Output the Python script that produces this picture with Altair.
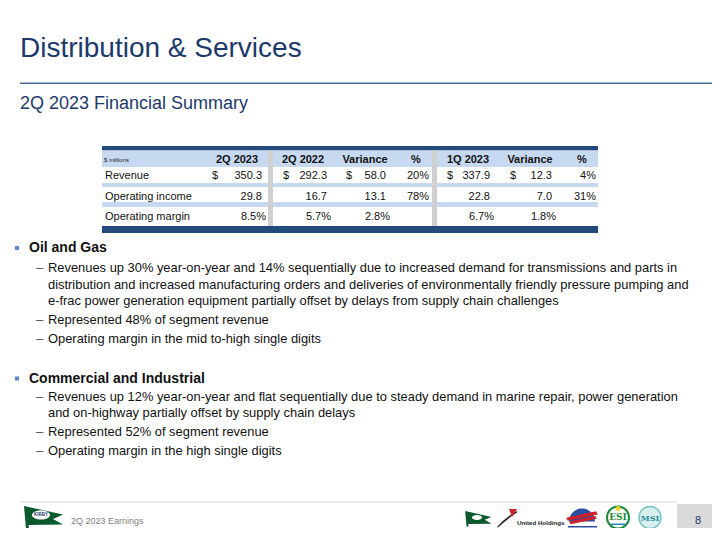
import altair as alt
import pandas as pd

# ---------------- data ----------------
title = "Distribution & Services"
subtitle = "2Q 2023 Financial Summary"
units_label = "$ millions"
col_headers = ["2Q 2023", "2Q 2022", "Variance", "%", "1Q 2023", "Variance", "%"]
row_labels = ["Revenue", "Operating income", "Operating margin"]
revenue = ["350.3", "292.3", "58.0", "20%", "337.9", "12.3", "4%"]
operating_income = ["29.8", "16.7", "13.1", "78%", "22.8", "7.0", "31%"]
operating_margin = ["8.5%", "5.7%", "2.8%", "", "6.7%", "1.8%", ""]
dollar_cols = [0, 1, 2, 4, 5]

section1 = "Oil and Gas"
section1_items = [
    ["Revenues up 30% year-on-year and 14% sequentially due to increased demand for transmissions and parts in",
     "distribution and increased manufacturing orders and deliveries of environmentally friendly pressure pumping and",
     "e-frac power generation equipment partially offset by delays from supply chain challenges"],
    ["Represented 48% of segment revenue"],
    ["Operating margin in the mid to-high single digits"],
]
section2 = "Commercial and Industrial"
section2_items = [
    ["Revenues up 12% year-on-year and flat sequentially due to steady demand in marine repair, power generation",
     "and on-highway partially offset by supply chain delays"],
    ["Represented 52% of segment revenue"],
    ["Operating margin in the high single digits"],
]
footer_text = "2Q 2023 Earnings"
page_number = "8"

# ---------------- layout ----------------
FONT = "Liberation Sans"
NAVY_TXT = "#1b3a6b"
TBL_NAVY = "#234a7c"
LIGHT_BLUE = "#c6d9f1"
GRAY_BAR = "#d0d0d0"

# page has an 8px margin: chart pixel (0,0) sits at page (8,8)
W, H = 704, 520
XS = alt.Scale(domain=[8, 8 + W], range=[0, W], nice=False, zero=False)
YS = alt.Scale(domain=[8, 8 + H], range=[0, H], nice=False, zero=False)


def X():
    return alt.X("x:Q", scale=XS, axis=None)


def Y():
    return alt.Y("y:Q", scale=YS, axis=None)


def rect_layer(rows):
    df = pd.DataFrame(rows, columns=["x", "x2", "y", "y2", "c"])
    return alt.Chart(df).mark_rect().encode(
        x=X(), x2="x2:Q", y=Y(), y2="y2:Q", color=alt.Color("c:N", scale=None)
    )


def text_layer(rows, size, color, weight="normal", align="left", baseline="middle", font=FONT):
    df = pd.DataFrame(rows, columns=["x", "y", "t"])
    return alt.Chart(df).mark_text(
        align=align, baseline=baseline, fontSize=size, fontWeight=weight,
        color=color, font=font
    ).encode(x=X(), y=Y(), text="t:N")


def shape_layer(rows, shape, color, size, stroke=None, stroke_width=0, fill=None):
    df = pd.DataFrame(rows, columns=["x", "y"])
    kw = dict(shape=shape, size=size, filled=True, opacity=1, color=color,
              fill=fill if fill else color)
    if stroke:
        kw["stroke"] = stroke
        kw["strokeWidth"] = stroke_width
    else:
        kw["strokeWidth"] = 0
    return alt.Chart(df).mark_point(**kw).encode(x=X(), y=Y())


layers = []

# title block
layers.append(text_layer([(20, 57, title)], 28, NAVY_TXT, baseline="alphabetic"))
layers.append(rect_layer([(20, 720, 82.6, 84, "#4d6d9a")]))
layers.append(text_layer([(20, 109, subtitle)], 18, NAVY_TXT, baseline="alphabetic"))

# table backgrounds
TL, TR = 102, 598
layers.append(rect_layer([
    (TL, TR, 146, 150.5, TBL_NAVY),
    (TL, TR, 150.5, 167, LIGHT_BLUE),
    (TL, TR, 183, 187, LIGHT_BLUE),
    (TL, TR, 202, 207, LIGHT_BLUE),
    (TL, TR, 226, 233, TBL_NAVY),
    (268, 273, 150.5, 226, GRAY_BAR),
    (432, 437, 150.5, 226, GRAY_BAR),
]))

header_cx = [237, 303, 365, 416, 468, 530, 582]
num_right = [262, 327, 386, 429, 490, 552, 596]
dollar_x = [212, 283, 346, None, 447, 510, None]
row_y = [176, 196.5, 216.5]

layers.append(text_layer([(104, 159.5, units_label)], 6, "#222222"))
layers.append(text_layer([(cx, 159.5, h) for cx, h in zip(header_cx, col_headers)],
                         11, "#111111", weight="bold", align="center"))
layers.append(text_layer([(105, y, r) for y, r in zip(row_y, row_labels)], 11, "#111111"))

num_rows = []
for ry, vals in zip(row_y, [revenue, operating_income, operating_margin]):
    for i, v in enumerate(vals):
        if not v:
            continue
        xr = num_right[i]
        if ry == row_y[2] and v.endswith("%"):
            xr += 4
        num_rows.append((xr, ry, v))
layers.append(text_layer(num_rows, 11, "#111111", align="right"))
layers.append(text_layer([(dollar_x[i], row_y[0], "$") for i in dollar_cols], 11, "#111111"))

# bullets
LINE = 16.7
GAP = 18.8


def section_rows(head_y, items, first_gap):
    out = []
    y = head_y + first_gap
    for item in items:
        first = True
        for line in item:
            out.append((y, line, first))
            first = False
            y += LINE
        y += GAP - LINE
    return out


sec_heads = [(248, section1, section1_items, 20), (378.5, section2, section2_items, 18)]
head_rows, body_rows, dash_rows, square_rows = [], [], [], []
for hy, head, items, fg in sec_heads:
    head_rows.append((29, hy, head))
    square_rows.append((17, hy))
    for y, line, first in section_rows(hy, items, fg):
        body_rows.append((48, y, line))
        if first:
            dash_rows.append((36, y, "\u2013"))

layers.append(shape_layer(square_rows, "square", "#5b87c5", 16))
layers.append(text_layer(head_rows, 14, "#111111", weight="bold"))
layers.append(text_layer(dash_rows, 13, "#555555"))
layers.append(text_layer(body_rows, 12.9, "#111111"))

# footer
layers.append(rect_layer([
    (20, 677, 501, 503, "#ebebeb"),
    (677, 720, 504, 540, "#d9d9d9"),
]))
layers.append(text_layer([(71, 521, footer_text)], 9, "#808080"))
layers.append(text_layer([(698, 521, page_number)], 11, NAVY_TXT, align="center"))

FLAG = "M-0.95,-0.55 L1,-0.12 L0.5,0.1 L1,0.38 L-0.72,0.4 L-0.7,0.6 L-0.85,0.6 Z"
ELLIPSE = "M-1,0 A1,0.5 0 1,1 1,0 A1,0.5 0 1,1 -1,0 Z"
layers.append(shape_layer([(43, 517)], FLAG, "#0b5a2e", 1600))
layers.append(shape_layer([(41, 515)], ELLIPSE, "#ffffff", 324))
layers.append(text_layer([(41, 515, "KIRBY")], 4.5, "#1b3a6b", weight="bold", align="center"))
layers.append(shape_layer([(478, 518.5)], FLAG, "#0b5a2e", 729))
layers.append(shape_layer([(477, 517.5)], ELLIPSE, "#ffffff", 100))

SWOOSH = "M-1,0.9 Q-0.1,-0.1 1,-0.7 L1,-0.55 Q0,0.1 -0.9,0.95 Z"
WEDGE = "M0.2,-0.9 L1,-0.9 L0.5,-0.1 Z"
layers.append(shape_layer([(507, 518)], SWOOSH, "#222222", 400))
layers.append(shape_layer([(507, 518)], WEDGE, "#d0202a", 400))
layers.append(text_layer([(517, 523, "United Holdings")], 6.2, "#222222", weight="bold"))

# emblem (red/blue)
DOME = "M-1,0.2 A1,1 0 0,1 1,0.2 Z"
STRIPE = "M-1,-0.15 L0.9,-0.55 L1,-0.35 L-0.9,0.05 Z"
layers.append(shape_layer([(582, 519)], DOME, "#2b4fa0", 676))
layers.append(shape_layer([(582, 520)], STRIPE, "#d0202a", 1000))
layers.append(shape_layer([(583, 523.5)], STRIPE, "#d0202a", 760))
layers.append(rect_layer([(568, 597, 526, 527.5, "#2b4fa0")]))

layers.append(shape_layer([(618, 517.5)], "circle", "#1b8a3a", 484,
                          stroke="#1b8a3a", stroke_width=2, fill="#ffffff"))
layers.append(shape_layer([(618, 508.5)], "circle", "#f2d22e", 25))
layers.append(text_layer([(618, 517, "ESI")], 9, "#1b8a3a", weight="bold",
                         align="center", font="DejaVu Serif"))
layers.append(rect_layer([(611, 625, 523.5, 525, "#2b7fc0")]))
layers.append(shape_layer([(650, 517.5)], "circle", "#3aa0a0", 484,
                          stroke="#7cc4c4", stroke_width=1.5, fill="#d8efef"))
layers.append(text_layer([(650, 518.5, "MSI")], 8, "#2a8f9a", weight="bold",
                         align="center", font="DejaVu Serif"))

chart = alt.layer(*layers).properties(
    width=W, height=H, padding=0, background="#ffffff",
    autosize=alt.AutoSizeParams(type="none")
).configure_view(stroke=None)

chart.save("out.html", embed_options={"renderer": "svg", "actions": False})
